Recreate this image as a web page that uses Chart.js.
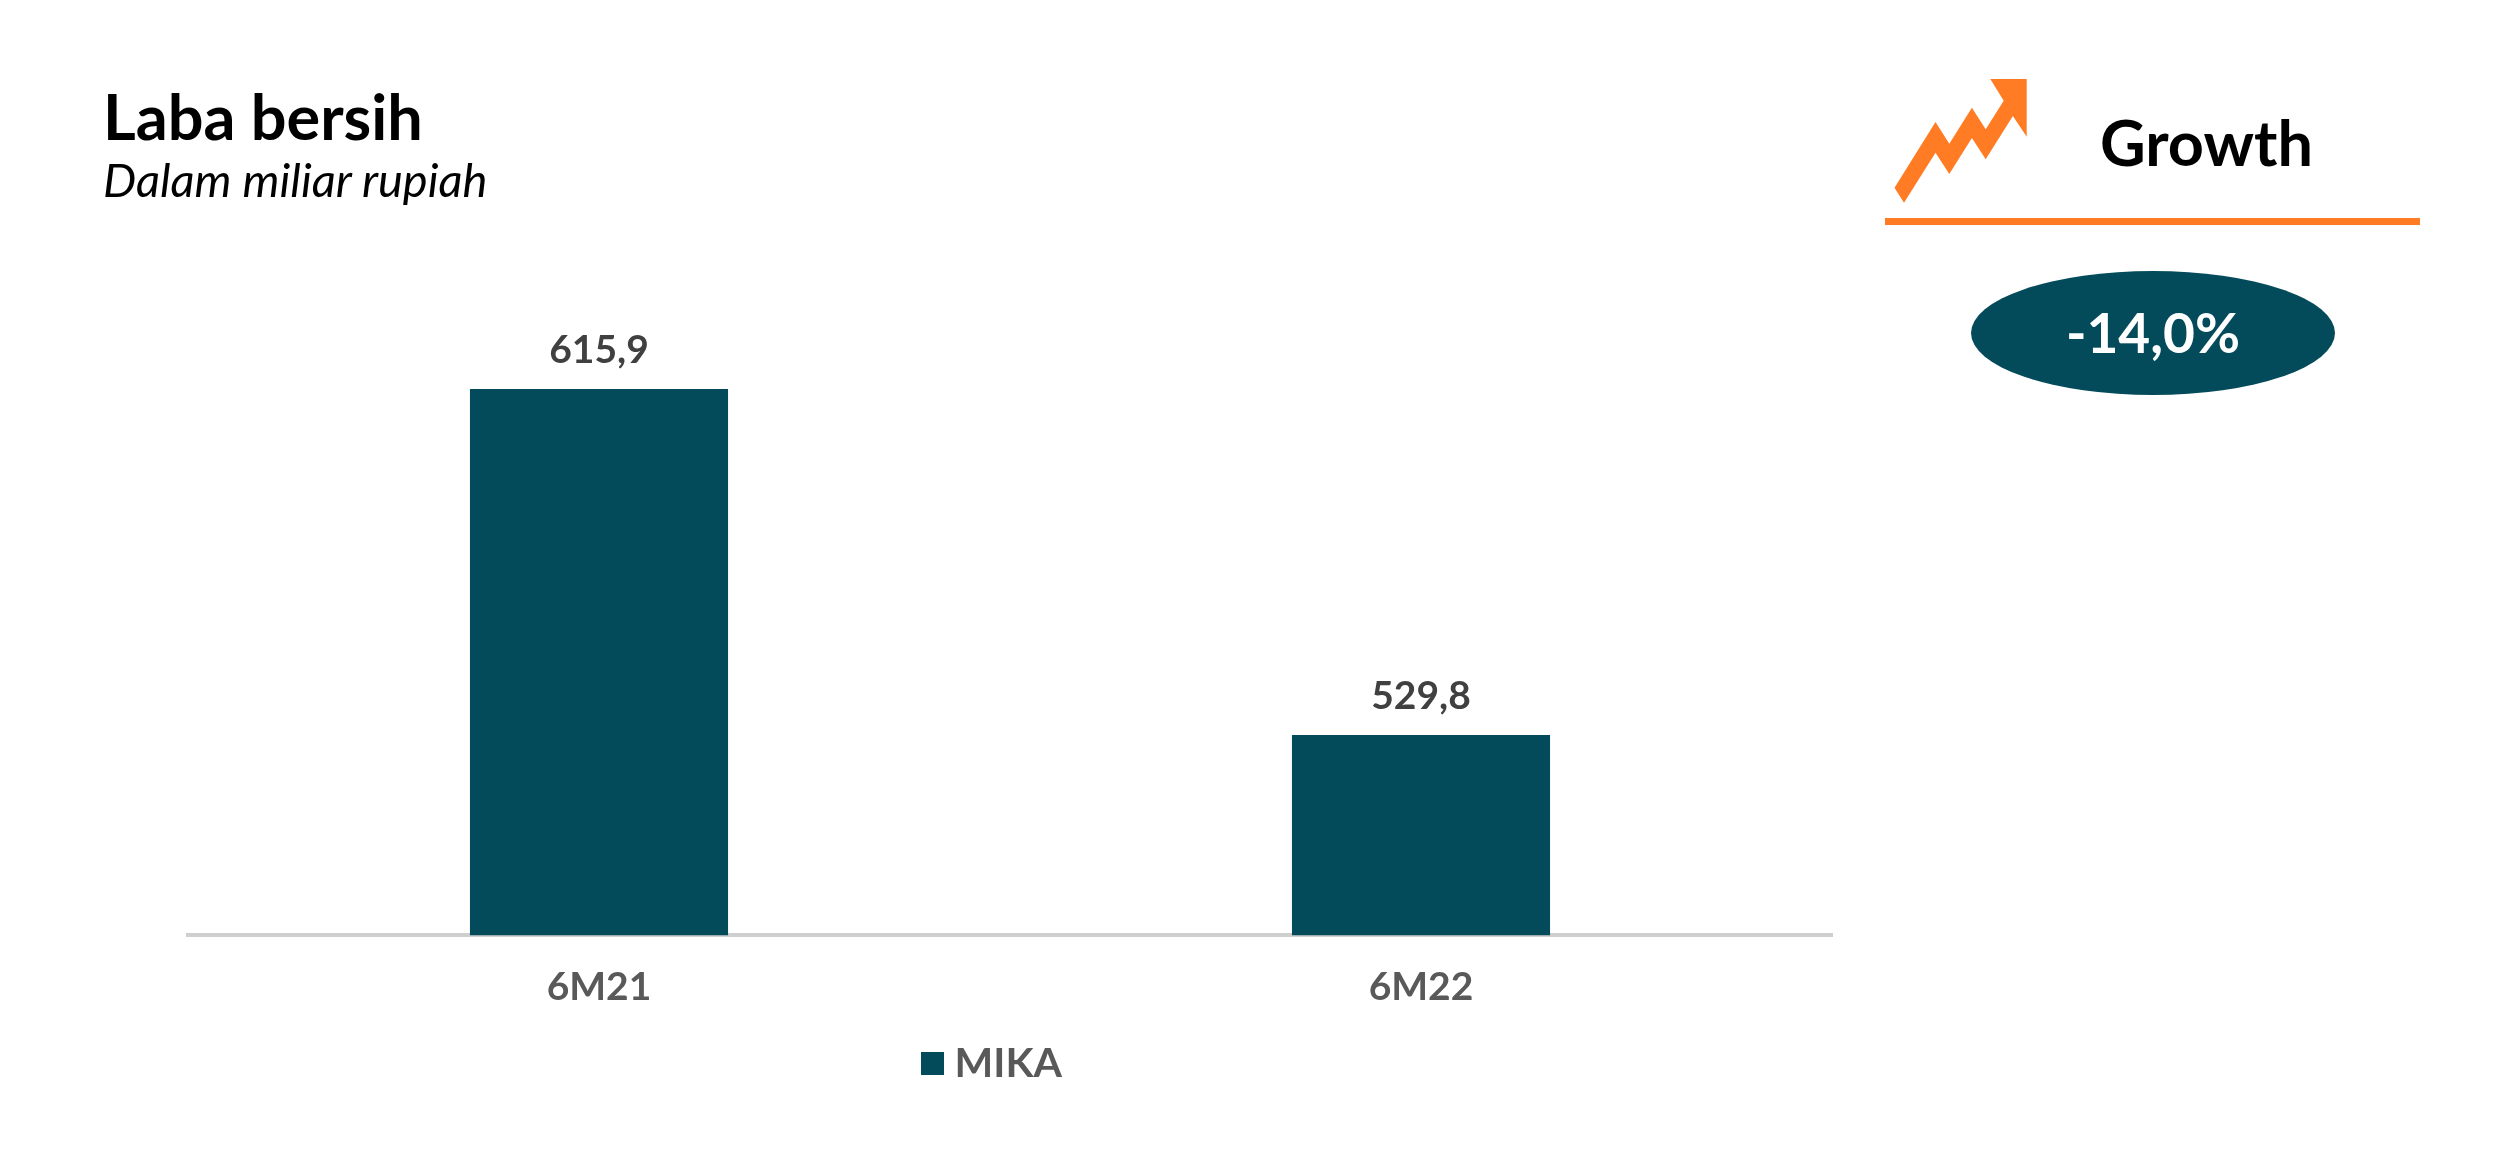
<!DOCTYPE html>
<html>
<head>
<meta charset="utf-8">
<title>Laba bersih</title>
<script src="https://cdn.jsdelivr.net/npm/chart.js@4"></script>
<style>
    html, body { margin: 0; padding: 0; background: #fff; }
    body { width: 2500px; height: 1176px; position: relative; overflow: hidden; font-family: Lato, sans-serif; }
    #chartLaba { position: absolute; left: 0; top: 0; }
    .txt { position: absolute; white-space: nowrap; line-height: 1; }
    #judul { left: 103px; top: 84px; font-size: 63px; font-weight: 700; color: #000; }
    #subjudul { left: 103px; top: 156px; font-size: 47px; font-style: italic; color: #000; }
    #growth { left: 2100px; top: 110px; font-size: 63px; font-weight: 700; color: #000; }
    #garis { position: absolute; left: 1885px; top: 218px; width: 535px; height: 7px; background: #ff7c24; }
    #oval { position: absolute; left: 1971px; top: 271px; width: 364px; height: 124px; border-radius: 50%; background: #034a5a; }
    #persen { left: 1971px; width: 364px; text-align: center; top: 305px; font-size: 55px; font-weight: 700; color: #fff; }
    #panah { position: absolute; left: 0; top: 0; }
</style>
</head>
<body>
<canvas id="chartLaba" width="1966" height="1176"></canvas>
<div class="txt" id="judul">Laba bersih</div>
<div class="txt" id="subjudul">Dalam miliar rupiah</div>
<svg id="panah" width="2500" height="240">
    <polygon fill="#ff7c24" points="1894.5,187.7 1935.5,122 1949.3,143.7 1971.9,107.7 1985.7,129.3 2003.7,100.7 1990.3,79 2026.7,79 2026.7,136.7 2012.9,116 1985.7,159.3 1971.9,138 1949.3,174 1935.5,152.7 1904,202.7"/>
</svg>
<div class="txt" id="growth">Growth</div>
<div id="garis"></div>
<div id="oval"></div>
<div class="txt" id="persen">-14,0%</div>
<script>
var labelsPeriode = ['6M21', '6M22'];
var dataMika = [615.9, 529.8];
var namaSeri = 'MIKA';
var warnaBatang = '#034a5a';

// kotak legenda: gambar sendiri supaya jaraknya ke teks bisa lebih rapat
var kotakLegenda = document.createElement('canvas');
kotakLegenda.width = 23;
kotakLegenda.height = 23;
var ctxKotak = kotakLegenda.getContext('2d');
ctxKotak.fillStyle = warnaBatang;
ctxKotak.fillRect(0, 0, 23, 23);

// label nilai di atas batang, legenda digeser sedikit ke kiri dari tengah plot
var labelNilai = {
    id: 'labelNilai',
    afterLayout: function(chart) {
        chart.legend.left -= 14;
        chart.legend.right -= 14;
    },
    afterDatasetsDraw: function(chart) {
        var ctx = chart.ctx;
        ctx.save();
        ctx.font = '700 39px Lato';
        ctx.fillStyle = '#404040';
        ctx.textAlign = 'center';
        ctx.textBaseline = 'alphabetic';
        chart.getDatasetMeta(0).data.forEach(function(bar, i) {
            ctx.fillText(dataMika[i].toFixed(1).replace('.', ','), bar.x, bar.y - 26);
        });
        ctx.restore();
    }
};

var chart = new Chart(document.querySelector('#chartLaba').getContext('2d'), {
    type: 'bar',
    data: {
        labels: labelsPeriode,
        datasets: [{
            label: namaSeri,
            backgroundColor: warnaBatang,
            pointStyle: kotakLegenda,
            borderWidth: 0,
            data: dataMika,
            barPercentage: 0.314,
            categoryPercentage: 1
        }]
    },
    options: {
        responsive: false,
        animation: false,
        layout: { padding: { left: 188, right: 134, top: 292, bottom: 82 } },
        plugins: {
            tooltip: { enabled: false },
            legend: {
                position: 'bottom',
                labels: {
                    usePointStyle: true,
                    pointStyleWidth: 4,
                    padding: 8,
                    color: '#595959',
                    font: { family: 'Lato', size: 41, weight: '700' }
                }
            }
        },
        scales: {
            x: {
                grid: { display: false },
                border: { display: true, color: '#cfcfcf', width: 4 },
                ticks: { color: '#595959', padding: 21, font: { family: 'Lato', size: 39, weight: '700' } },
                // legenda turun sedikit, garis sumbu tetap di tempat
                afterFit: function(scale) { scale.height += 3; }
            },
            y: { display: false, min: 480, max: 640 }
        }
    },
    plugins: [labelNilai]
});
</script>
</body>
</html>
